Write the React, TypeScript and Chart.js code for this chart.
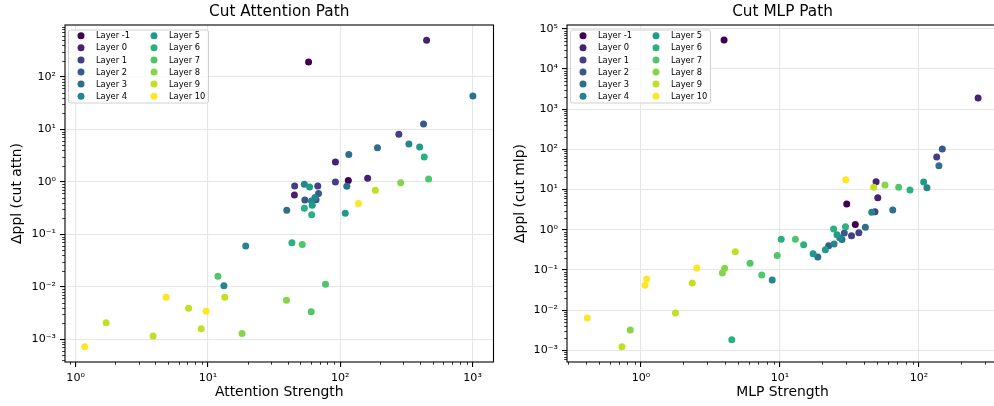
import React, { useEffect, useRef } from "react";
import { Chart, registerables } from "chart.js";

Chart.register(...registerables);

const FONT = '"DejaVu Sans", Verdana, sans-serif';

const LAYER_IDS = [-1, 0, 1, 2, 3, 4, 5, 6, 7, 8, 9, 10];
const LAYER_NAMES = ["Layer -1", "Layer 0", "Layer 1", "Layer 2", "Layer 3", "Layer 4", "Layer 5", "Layer 6", "Layer 7", "Layer 8", "Layer 9", "Layer 10"];
const LAYER_COLORS = ["#440154", "#482173", "#433e85", "#38598c", "#2d708e", "#25858e", "#1e9b8a", "#2bb07f", "#51c56a", "#85d54a", "#c2df23", "#fde725"];

// ---- Cut Attention Path ----
const ATTN_STRENGTH = [57.6, 449, 1005, 426, 277, 330, 398, 431, 465, 286, 191, 116, 91.9, 161, 115, 91.9, 184, 137, 112, 109, 45.2, 45, 53.5, 58.6, 67.6, 68.5, 54, 65.6, 64.4, 60.6, 61.4, 53.5, 60.8, 39.4, 19.3, 43.1, 51.6, 11.9, 13.2, 77.3, 4.83, 13.4, 39.2, 7.14, 9.69, 60.3, 1.70, 8.89, 18.1, 3.85, 1.17];
const ATTN_DPPL = [190, 494, 42.9, 12.6, 8.0, 5.23, 4.58, 2.95, 1.13, 0.957, 4.44, 3.30, 2.37, 1.16, 1.05, 0.987, 0.686, 0.385, 0.817, 0.251, 0.828, 0.558, 0.892, 0.793, 0.828, 0.596, 0.448, 0.454, 0.5, 0.429, 0.357, 0.313, 0.235, 0.285, 0.0596, 0.0689, 0.0637, 0.0158, 0.01045, 0.0111, 0.00628, 0.00628, 0.00551, 0.00388, 0.0034, 0.00334, 0.00206, 0.00158, 0.00129, 0.00115, 0.00072];
const ATTN_LAYER = [-1, 0, 3, 2, 1, 4, 5, 6, 7, 8, 3, 3, 0, 0, -1, 1, 9, 10, 3, 5, 1, 0, 4, 5, 1, 2, 2, 2, 4, 4, 5, 6, 6, 3, 4, 6, 7, 7, 4, 7, 10, 9, 8, 9, 10, 7, 9, 9, 8, 9, 10];
const ATTN_X_TICKS = [1, 10, 100, 1000];
const ATTN_Y_TICKS = [0.001, 0.01, 0.1, 1, 10, 100];

// ---- Cut MLP Path ----
const MLP_STRENGTH = [3.96, 266, 147, 134, 139, 29.7, 49.1, 56.9, 47.2, 71.4, 86.1, 108, 114, 50.5, 30.2, 48.2, 45.7, 64.7, 34.8, 41.1, 29.6, 24.3, 29.0, 36.9, 32.7, 25.7, 26.9, 27.9, 24.5, 22.4, 21.2, 10.2, 12.9, 14.8, 17.3, 18.7, 9.55, 4.77, 7.39, 8.79, 6.09, 2.52, 4.0, 3.85, 1.10, 1.07, 2.34, 0.411, 1.77, 0.838, 0.730, 4.50];
const MLP_DPPL = [52400, 1890, 102, 64.3, 39.1, 17.5, 15.6, 12.9, 11.3, 11.3, 9.72, 15.4, 11.1, 6.25, 4.36, 2.81, 2.71, 3.09, 1.35, 1.15, 1.19, 1.04, 0.828, 0.842, 0.709, 0.747, 0.632, 0.567, 0.441, 0.398, 0.316, 0.580, 0.577, 0.424, 0.251, 0.209, 0.228, 0.282, 0.0746, 0.0561, 0.146, 0.111, 0.110, 0.0838, 0.0594, 0.0414, 0.0472, 0.00636, 0.00847, 0.0032, 0.00123, 0.00184];
const MLP_LAYER = [-1, 0, 2, 1, 3, 10, 0, 8, 9, 7, 6, 5, 4, 0, -1, 1, 4, 3, -1, 3, 6, 6, 2, 1, 1, 5, 4, 3, 4, 2, 5, 6, 7, 6, 5, 3, 7, 9, 7, 4, 7, 10, 8, 8, 10, 10, 9, 10, 9, 8, 9, 6];
const MLP_X_TICKS = [1, 10, 100];
const MLP_Y_TICKS = [0.001, 0.01, 0.1, 1, 10, 100, 1000, 10000, 100000];

const SUP: Record<string, string> = { "-": "\u207b", "0": "\u2070", "1": "\u00b9", "2": "\u00b2", "3": "\u00b3", "4": "\u2074", "5": "\u2075", "6": "\u2076", "7": "\u2077", "8": "\u2078", "9": "\u2079" };
function powLabel(v: number) {
  const e = Math.round(Math.log10(v));
  return "10" + String(e).split("").map((c) => SUP[c]).join("");
}

const framePlugin = {
  id: "frame",
  afterDatasetsDraw(chart: any) {
    const { ctx, chartArea: a } = chart;
    ctx.save();
    ctx.strokeStyle = "#000";
    ctx.lineWidth = 1.1;
    ctx.strokeRect(a.left, a.top, a.right - a.left, a.bottom - a.top);
    ctx.restore();
  },
};

function minorValues(scale: any) {
  const out: number[] = [];
  const lo = Math.floor(Math.log10(scale.min));
  const hi = Math.ceil(Math.log10(scale.max));
  for (let e = lo; e <= hi; e++) {
    for (let m = 2; m <= 9; m++) {
      const v = m * Math.pow(10, e);
      if (v >= scale.min && v <= scale.max) out.push(v);
    }
  }
  return out;
}

const minorTicksPlugin = {
  id: "minorTicks",
  afterDatasetsDraw(chart: any) {
    const { ctx, chartArea: a } = chart;
    const xs = chart.scales.x;
    const ys = chart.scales.y;
    ctx.save();
    ctx.strokeStyle = "#000";
    ctx.lineWidth = 0.8;
    ctx.beginPath();
    minorValues(xs).forEach((v) => {
      const px = Math.round(xs.getPixelForValue(v)) + 0.5;
      ctx.moveTo(px, a.bottom);
      ctx.lineTo(px, a.bottom + 2.8);
    });
    minorValues(ys).forEach((v) => {
      const py = Math.round(ys.getPixelForValue(v)) + 0.5;
      ctx.moveTo(a.left, py);
      ctx.lineTo(a.left - 2.8, py);
    });
    ctx.stroke();
    ctx.restore();
  },
};

const legendPlugin = {
  id: "mplLegend",
  afterDatasetsDraw(chart: any) {
    const { ctx, chartArea: a } = chart;
    const left = a.left + 3.5;
    const top = a.top + 5;
    ctx.save();
    ctx.beginPath();
    ctx.roundRect(left, top, 140, 73, 2);
    ctx.fillStyle = "rgba(255,255,255,0.8)";
    ctx.fill();
    ctx.strokeStyle = "#d0d0d0";
    ctx.lineWidth = 1;
    ctx.stroke();
    ctx.font = `8.3px ${FONT}`;
    ctx.textBaseline = "middle";
    ctx.textAlign = "left";
    chart.data.datasets.forEach((ds: any, i: number) => {
      const col = Math.floor(i / 6);
      const row = i % 6;
      const mx = left + 12.5 + col * 73;
      const my = top + 5.7 + row * 12.1;
      ctx.beginPath();
      ctx.arc(mx, my, 3.5, 0, Math.PI * 2);
      ctx.fillStyle = ds.backgroundColor;
      ctx.fill();
      ctx.fillStyle = "#000";
      ctx.fillText(ds.label, mx + 15, my + 0.5);
    });
    ctx.restore();
  },
};

type Spec = {
  title: string;
  xLabel: string;
  yLabel: string;
  x: number[];
  y: number[];
  layer: number[];
  xTicks: number[];
  yTicks: number[];
  xMin: number;
  xMax: number;
  yMin: number;
  yMax: number;
  yAxisWidth: number;
  padRight: number;
  yTitlePad: number;
};

const ATTN_SPEC: Spec = {
  title: "Cut Attention Path",
  xLabel: "Attention Strength",
  yLabel: "\u0394ppl (cut attn)",
  x: ATTN_STRENGTH,
  y: ATTN_DPPL,
  layer: ATTN_LAYER,
  xTicks: ATTN_X_TICKS,
  yTicks: ATTN_Y_TICKS,
  xMin: Math.pow(10, -0.0804),
  xMax: Math.pow(10, 3.158),
  yMin: Math.pow(10, -3.434),
  yMax: Math.pow(10, 2.985),
  yAxisWidth: 65,
  padRight: 1,
  yTitlePad: 9.2,
};

const MLP_SPEC: Spec = {
  title: "Cut MLP Path",
  xLabel: "MLP Strength",
  yLabel: "\u0394ppl (cut mlp)",
  x: MLP_STRENGTH,
  y: MLP_DPPL,
  layer: MLP_LAYER,
  xTicks: MLP_X_TICKS,
  yTicks: MLP_Y_TICKS,
  xMin: Math.pow(10, -0.532),
  xMax: Math.pow(10, 2.568),
  yMin: Math.pow(10, -3.291),
  yMax: Math.pow(10, 5.092),
  yAxisWidth: 70,
  padRight: 4,
  yTitlePad: 15.2,
};

function makeConfig(p: Spec): any {
  const datasets = LAYER_IDS.map((id, i) => {
    const data: { x: number; y: number }[] = [];
    p.layer.forEach((l, k) => {
      if (l === id) data.push({ x: p.x[k], y: p.y[k] });
    });
    return {
      label: LAYER_NAMES[i],
      data,
      backgroundColor: LAYER_COLORS[i],
      borderColor: LAYER_COLORS[i],
      borderWidth: 0,
      pointRadius: 3.5,
      pointHoverRadius: 3.5,
      order: LAYER_IDS.length - i,
    };
  });
  const tickFont = { family: FONT, size: 11.1 };
  const labelFont = { family: FONT, size: 13.9 };
  const grid = { color: "#e6e6e6", lineWidth: 1.1, tickColor: "#000", tickLength: 5, tickWidth: 1.1 };
  return {
    type: "scatter",
    data: { datasets },
    options: {
      responsive: false,
      animation: false,
      events: [],
      layout: { padding: { left: 0, right: p.padRight, top: 0, bottom: 0 } },
      plugins: {
        legend: { display: false },
        tooltip: { enabled: false },
        title: {
          display: true,
          text: p.title,
          fullSize: false,
          color: "#000",
          font: { family: FONT, size: 15.3, weight: "normal", lineHeight: 1.2 },
          padding: { top: 3.3, bottom: 3.34 },
        },
      },
      scales: {
        x: {
          type: "logarithmic",
          position: "bottom",
          min: p.xMin,
          max: p.xMax,
          afterBuildTicks: (s: any) => {
            s.ticks = p.xTicks.map((v) => ({ value: v }));
          },
          afterFit: (s: any) => {
            s.height = 44;
          },
          ticks: { autoSkip: false, maxRotation: 0, minRotation: 0, padding: 4, color: "#000", font: tickFont, callback: (v: any) => powLabel(Number(v)) },
          grid,
          border: { display: false },
          title: { display: true, text: p.xLabel, color: "#000", font: labelFont, padding: { top: 0, bottom: 5 } },
        },
        y: {
          type: "logarithmic",
          position: "left",
          min: p.yMin,
          max: p.yMax,
          afterBuildTicks: (s: any) => {
            s.ticks = p.yTicks.map((v) => ({ value: v }));
          },
          afterFit: (s: any) => {
            s.width = p.yAxisWidth;
          },
          ticks: { autoSkip: false, padding: 4, color: "#000", font: tickFont, callback: (v: any) => powLabel(Number(v)) },
          grid,
          border: { display: false },
          title: { display: true, text: p.yLabel, color: "#000", font: labelFont, padding: { top: p.yTitlePad, bottom: 0 } },
        },
      },
    },
    plugins: [framePlugin, minorTicksPlugin, legendPlugin],
  };
}

function Panel({ spec, left, width }: { spec: Spec; left: number; width: number }) {
  const ref = useRef<HTMLCanvasElement>(null);
  useEffect(() => {
    const chart = new Chart(ref.current as HTMLCanvasElement, makeConfig(spec));
    return () => chart.destroy();
  }, [spec]);
  return (
    <canvas
      ref={ref}
      width={width}
      height={406}
      style={{ position: "absolute", left, top: 0, width, height: 406, display: "block" }}
    />
  );
}

export default function App() {
  return (
    <div style={{ position: "fixed", left: 0, top: 0, width: 994, height: 406, overflow: "hidden", background: "#fff" }}>
      <Panel spec={ATTN_SPEC} left={0} width={497} />
      <Panel spec={MLP_SPEC} left={497} width={505} />
    </div>
  );
}
